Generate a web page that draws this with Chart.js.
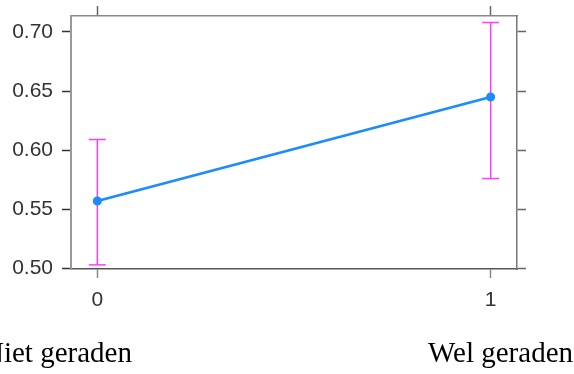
<!DOCTYPE html>
<html>
<head>
<meta charset="utf-8">
<script src="https://cdn.jsdelivr.net/npm/chart.js@4/dist/chart.umd.min.js"></script>
<style>
    body { margin: 0; background: #fff; }
    #wrap { position: relative; width: 574px; height: 374px; overflow: hidden; }
    .group { position: absolute; font-family: 'Liberation Serif', 'Times New Roman', serif; font-size: 29px; line-height: 29px; color: #000; white-space: nowrap; }
</style>
</head>
<body>
<div id="wrap">
    <canvas id="chart" width="574" height="374"></canvas>
    <div class="group" style="left: -17px; top: 338px;">Niet geraden</div>
    <div class="group" style="left: 428px; top: 338px;">Wel geraden</div>
</div>
<script>
// Data
const categories = [0, 1]
const means = [0.557, 0.645]
const lower = [0.503, 0.576]
const upper = [0.609, 0.708]
const xTicks = [0, 1]
const yTicks = [0.50, 0.55, 0.60, 0.65, 0.70]

const X_MIN = -0.067
const X_MAX = 1.067
const Y_MIN = 0.4995
const Y_MAX = 0.7135

const tickFont = { family: "'Liberation Sans', Arial, sans-serif", size: 21 }

// One dataset per error bar, the caps are 'line' point markers
const errorBars = categories.map((c, i) => ({
    data: [{ x: c, y: lower[i] }, { x: c, y: upper[i] }],
    borderColor: '#ff3cff',
    borderWidth: 1.5,
    pointStyle: 'line',
    pointRadius: 8.5,
    pointBorderColor: '#ff3cff',
    pointBorderWidth: 1.5,
    pointHoverRadius: 8.5
}))

function fixTicks(values) {
    return scale => { scale.ticks = values.map(v => ({ value: v })) }
}

// Fixed axis sizes, and no extra room for overflowing labels
function fixSize(size) {
    return scale => {
        if (scale.isHorizontal()) scale.height = size
        else scale.width = size
        scale.paddingTop = 0
        scale.paddingBottom = 0
        scale.paddingLeft = 0
        scale.paddingRight = 0
    }
}

new Chart(document.getElementById('chart'), {
    type: 'line',
    data: {
        datasets: [{
            data: categories.map((c, i) => ({ x: c, y: means[i] })),
            borderColor: '#1a8cff',
            borderWidth: 2.7,
            pointRadius: 3.2,
            pointBackgroundColor: '#1a8cff',
            pointBorderColor: '#1a8cff',
            tension: 0
        }, ...errorBars]
    },
    options: {
        responsive: false,
        animation: false,
        layout: { padding: 0 },
        plugins: {
            legend: { display: false },
            tooltip: { enabled: false }
        },
        scales: {
            x: {
                type: 'linear',
                position: 'bottom',
                min: X_MIN,
                max: X_MAX,
                afterBuildTicks: fixTicks(xTicks),
                afterFit: fixSize(105),
                border: { color: '#555', width: 1.5 },
                grid: { drawOnChartArea: false, drawTicks: true, tickLength: 9, tickColor: '#888', tickWidth: 1.5 },
                ticks: { font: tickFont, color: '#333', padding: 10 }
            },
            x2: {
                type: 'linear',
                position: 'top',
                min: X_MIN,
                max: X_MAX,
                afterBuildTicks: fixTicks(xTicks),
                afterFit: fixSize(16),
                border: { color: '#888', width: 1.5 },
                grid: { drawOnChartArea: false, drawTicks: true, tickLength: 10, tickColor: '#666', tickWidth: 1.5 },
                ticks: { font: tickFont, color: 'rgba(0,0,0,0)' }
            },
            y: {
                type: 'linear',
                position: 'left',
                min: Y_MIN,
                max: Y_MAX,
                afterBuildTicks: fixTicks(yTicks),
                afterFit: fixSize(71),
                border: { color: '#999', width: 2 },
                grid: { drawOnChartArea: false, drawTicks: true, tickLength: 9, tickColor: '#333', tickWidth: 1.5 },
                ticks: { font: tickFont, color: '#333', padding: 9, callback: v => v.toFixed(2) }
            },
            y2: {
                type: 'linear',
                position: 'right',
                min: Y_MIN,
                max: Y_MAX,
                afterBuildTicks: fixTicks(yTicks),
                afterFit: fixSize(57),
                border: { color: '#777', width: 1.5 },
                grid: { drawOnChartArea: false, drawTicks: true, tickLength: 9, tickColor: '#666', tickWidth: 1.5 },
                ticks: { font: tickFont, color: 'rgba(0,0,0,0)', callback: v => v.toFixed(2) }
            }
        }
    }
})
</script>
</body>
</html>
